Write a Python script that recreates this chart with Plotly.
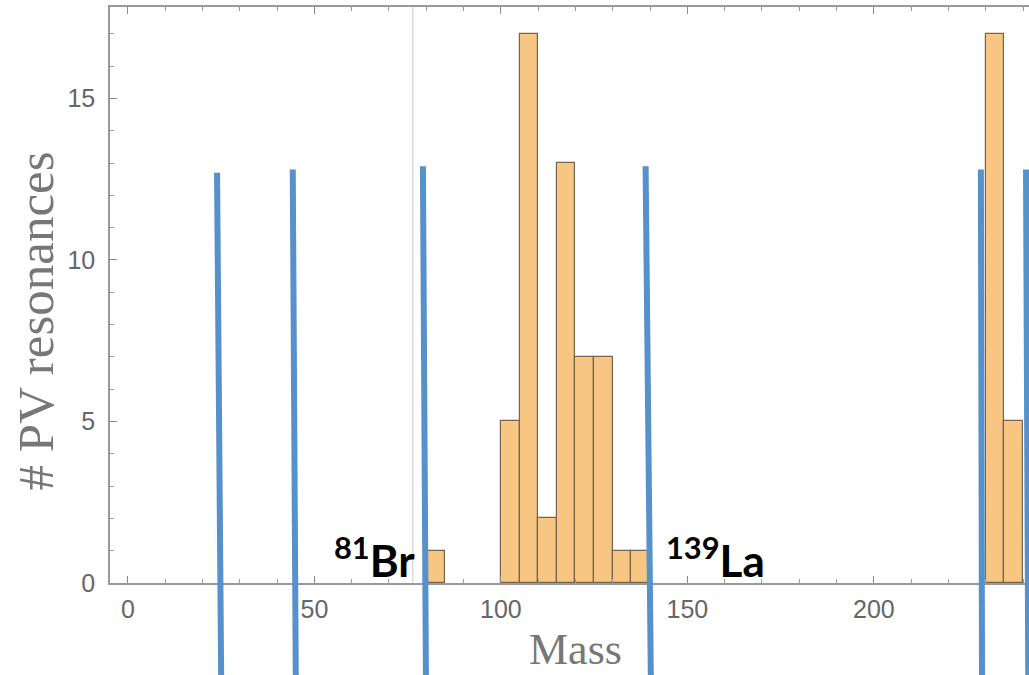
import plotly.graph_objects as go

# Histogram bins (left edges, width 5) and counts
bin_left = [80, 100, 105, 110, 115, 120, 125, 130, 135, 230, 235]
counts = [1, 5, 17, 2, 13, 7, 7, 1, 1, 17, 5]
bin_width = 5

# Hand-drawn blue marker lines (mass at top end / bottom end, top height in counts)
marker_x_top = [23.9, 44.2, 79.1, 138.8, 228.7, 240.8]
marker_x_bottom = [25.0, 45.0, 79.9, 140.2, 229.0, 241.4]
marker_top = [12.7, 12.8, 12.9, 12.9, 12.8, 12.8]

grid_line_x = 76.4

labels = ["<sup>81</sup>Br", "<sup>139</sup>La"]
label_x = [77.5, 143.7]
label_anchor = ["right", "left"]

x_ticks = [0, 50, 100, 150, 200]
y_ticks = [0, 5, 10, 15]
x_title = "Mass"
y_title = "# PV resonances"

X_RANGE = [-4.8, 241.6]
Y_RANGE = [0, 17.83]
BOTTOM_PAPER = -0.16

centers = [b + bin_width / 2 for b in bin_left]

fig = go.Figure()
fig.add_trace(go.Bar(
    x=centers, y=counts, width=[bin_width] * len(counts),
    marker=dict(color="rgb(246,198,130)",
                line=dict(color="rgb(120,100,75)", width=1.2)),
    showlegend=False,
))

shapes = [dict(type="line", xref="x", yref="paper", x0=grid_line_x, x1=grid_line_x,
               y0=0, y1=1, line=dict(color="#c8c8c8", width=1), layer="below")]
for xt, xb, top in zip(marker_x_top, marker_x_bottom, marker_top):
    shapes.append(dict(type="line", xref="x", yref="paper",
                       x0=xt, x1=xb, y0=top / Y_RANGE[1], y1=BOTTOM_PAPER,
                       line=dict(color="rgb(86,145,203)", width=6), layer="above"))

annotations = []
for t, x, a in zip(labels, label_x, label_anchor):
    annotations.append(dict(text=t, x=x, y=0, xref="x", yref="y",
                            xanchor=a, yanchor="bottom", showarrow=False,
                            yshift=-5,
                            font=dict(family="Lato", size=44, color="black", weight="bold")))

# axis titles placed as paper annotations
annotations.append(dict(text=x_title, xref="paper", yref="paper", x=0.507, y=-0.116,
                        xanchor="center", yanchor="middle", showarrow=False,
                        font=dict(family="Liberation Serif", size=44, color="#777")))
annotations.append(dict(text=y_title, xref="paper", yref="paper", x=-0.081, y=0.455,
                        xanchor="center", yanchor="middle", showarrow=False, textangle=-90,
                        font=dict(family="Liberation Serif", size=51, color="#777")))

fig.update_layout(
    width=1029, height=675,
    margin=dict(l=110, r=0, t=7, b=92),
    plot_bgcolor="white", paper_bgcolor="white",
    shapes=shapes, annotations=annotations,
    bargap=0,
    xaxis=dict(range=X_RANGE, tickvals=x_ticks, ticks="inside", ticklen=7,
               tickcolor="#888", showline=True, linecolor="#999", linewidth=1.5,
               mirror="ticks", showgrid=False, zeroline=False,
               minor=dict(dtick=10, ticks="inside", ticklen=4, tickcolor="#999"),
               tickfont=dict(family="Liberation Sans", size=25, color="#666"),
               ticklabelstandoff=3),
    yaxis=dict(range=Y_RANGE, tickvals=y_ticks, ticks="inside", ticklen=7,
               tickcolor="#888", showline=True, linecolor="#999", linewidth=1.5,
               showgrid=False, zeroline=False,
               minor=dict(dtick=1, ticks="inside", ticklen=4, tickcolor="#999"),
               tickfont=dict(family="Liberation Sans", size=25, color="#666"),
               ticklabelstandoff=8),
)

fig.write_html("out.html")
